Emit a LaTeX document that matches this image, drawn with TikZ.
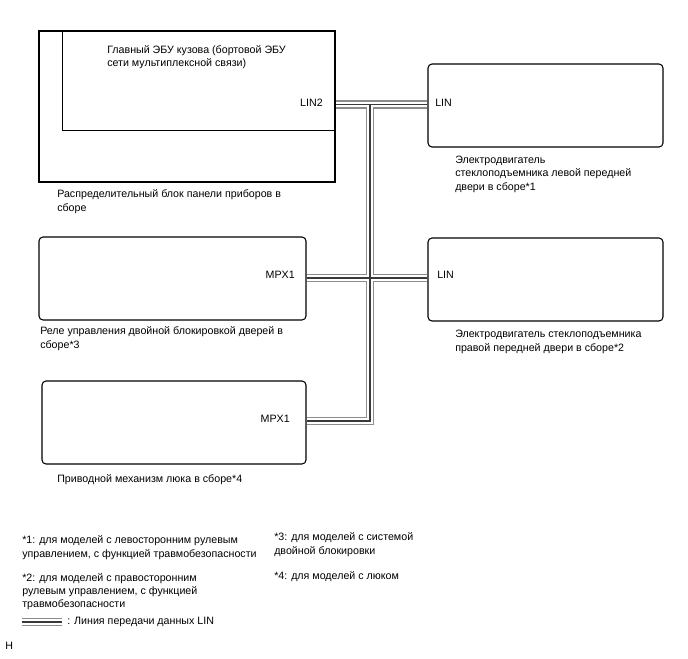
\documentclass[tikz,border=0pt]{standalone}
\usepackage{fontspec}
\setmainfont{Liberation Sans}
\usetikzlibrary{fit,backgrounds}
\definecolor{busGray}{HTML}{8C8C8C}
\definecolor{busDark}{HTML}{3A3A3A}

\begin{document}
\begin{tikzpicture}[
  x=0.75pt, y=-0.75pt,
  every node/.style={font=\fontsize{8}{10}\selectfont, inner sep=0pt},
  unit/.style={rectangle, rounded corners=3pt, draw, line width=0.8pt, inner sep=0pt},
  block/.style={rectangle, draw, line width=0.8pt, inner sep=0pt},
  txt/.style={anchor=base west, align=left},
  pinL/.style={anchor=base west},
  pinR/.style={anchor=base east},
]
\useasboundingbox (0,0) rectangle (688,658);

% === Instrument panel junction block with main body ECU ===
\node[block, fit={(39,31) (335,182)}] (jb) {};
\node[fit={(63,31) (335,130)}] (ecu) {};
\draw[line width=0.8pt] (ecu.north west) -- (ecu.south west) -- (ecu.south east);
% (multi-line texts: placed at the baseline of their last line)
\node[txt] (ecutext) at (107,66.5) {Главный ЭБУ кузова (бортовой ЭБУ\\сети мультиплексной связи)};
\node[pinR] (lin2) at (323,106) {LIN2};
\node[txt] (jbtext) at (57,211.3) {Распределительный блок панели приборов в\\сборе};

% === Front power window motors ===
\node[unit, fit={(428,64) (663,147)}] (win1) {};
\node[pinL] (lin1) at (435,106) {LIN};
\node[txt] (win1text) at (455,190) {Электродвигатель\\стеклоподъемника левой передней\\двери в сборе*1};

\node[unit, fit={(428,238) (663,321)}] (win2) {};
\node[pinL] (lin3) at (437,278) {LIN};
\node[txt] (win2text) at (455,351.3) {Электродвигатель стеклоподъемника\\правой передней двери в сборе*2};

% === Double locking relay, sliding roof drive ===
\node[unit, fit={(39,237) (306,320)}] (relay) {};
\node[pinR] (mpx1) at (295,278) {MPX1};
\node[txt] (relaytext) at (40,348.3) {Реле управления двойной блокировкой дверей в\\сборе*3};

\node[unit, fit={(42,381) (306,464)}] (roof) {};
\node[pinR] (mpx2) at (290,422) {MPX1};
\node[txt] (rooftext) at (57,482) {Приводной механизм люка в сборе*4};

% === Notes ===
\node[txt] (note1) at (22,557.3) {*1: для моделей с левосторонним рулевым\\управлением, с функцией травмобезопасности};
\node[txt] (note3) at (274,554.3) {*3: для моделей с системой\\двойной блокировки};
\node[txt] (note2) at (22,607.7) {*2: для моделей с правосторонним\\рулевым управлением, с функцией\\травмобезопасности};
\node[txt] (note4) at (274,579) {*4: для моделей с люком};
\coordinate (legA) at (22,622);
\coordinate (legB) at (62,622);
\node[txt] (legtext) at (67,624) {: Линия передачи данных LIN};
\node[txt] (mark) at (5,649) {H};

% === LIN bus ===
\coordinate (tapA) at (370,104.5);
\coordinate (tapB) at (370,278);
\coordinate (tapC) at (370,421);
\begin{scope}[on background layer]
  \foreach \w/\clr in {6.2pt/busGray, 4.4pt/white, 1pt/busDark}{
    \draw[line width=\w, \clr] (jb.east |- tapA) -- (win1.west |- tapA);
    \draw[line width=\w, \clr] (tapA) -- (tapC) -- (roof.east |- tapC);
    \draw[line width=\w, \clr] (relay.east |- tapB) -- (win2.west |- tapB);
    \draw[line width=\w, \clr] (legA) -- (legB);
  }
\end{scope}

\end{tikzpicture}
\end{document}
